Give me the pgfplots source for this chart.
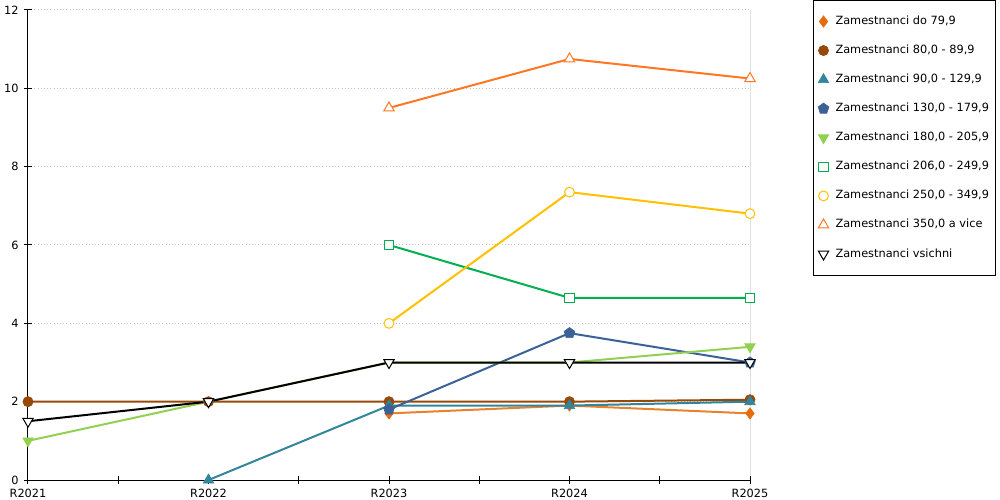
\documentclass[border=0pt]{standalone}
\usepackage{pgfplots}
\pgfplotsset{compat=1.18}
\usepackage{fontspec}
\setmainfont{DejaVu Sans}
\definecolor{c1}{HTML}{E46C0A}
\definecolor{c2}{HTML}{984807}
\definecolor{c3}{HTML}{31859C}
\definecolor{c4}{HTML}{3A6296}
\definecolor{c5}{HTML}{92D050}
\definecolor{c6}{HTML}{00B050}
\definecolor{c7}{HTML}{FFC000}
\definecolor{c8}{HTML}{FF7722}
\begin{document}
\begin{tikzpicture}
\begin{axis}[
  at={(0,0)}, anchor=south west,
  scale only axis,
  width=541.5pt, height=352.5pt,
  xmin=0, xmax=4, ymin=0, ymax=12,
  xtick={0,1,2,3,4},
  xticklabels={R2021,R2022,R2023,R2024,R2025},
  minor xtick={0.5,1.5,2.5,3.5},
  ytick={0,2,4,6,8,10,12},
  axis x line*=bottom, axis y line*=left,
  axis line style={-, black, line width=0.75pt},
  tick style={black, line width=0.75pt},
  tick align=center,
  major tick length=6pt, minor tick length=6pt,
  ymajorgrids,
  grid style={gray!50, dotted, line width=0.75pt},
  tick label style={font=\fontsize{8.5}{10}\selectfont},
  /pgf/number format/assume math mode=true,
  line width=1.5pt,
  legend style={at={(1.0873,1.0213)}, anchor=north west, draw=black, line width=0.75pt,
    font=\fontsize{8.5}{10}\selectfont, inner xsep=3.5pt, inner ysep=11pt,
    row sep=12.3pt,
    /tikz/every odd column/.append style={column sep=4pt},
    nodes={inner sep=1pt, text height=6pt, text depth=1.5pt}},
  legend cell align=left,
  legend image code/.code={\draw[#1] plot coordinates {(0.1cm,0cm)};},
]
\addplot[c1!85, mark=diamond*, mark size=4.2pt, mark options={c1, fill=c1, line width=0.5pt}] coordinates {(2,1.7)(3,1.9)(4,1.7)};
\addlegendentry{Zamestnanci do 79,9}
\addplot[c2, mark=*, mark size=3.8pt, mark options={c2, fill=c2, line width=0.5pt}] coordinates {(0,2)(1,2)(2,2)(3,2)(4,2.05)};
\addlegendentry{Zamestnanci 80,0 - 89,9}
\addplot[c3, mark=triangle*, mark size=4.5pt, mark options={c3, fill=c3, line width=0.5pt}] coordinates {(1,0)(2,1.9)(3,1.9)(4,2.0)};
\addlegendentry{Zamestnanci 90,0 - 129,9}
\addplot[c4, mark=pentagon*, mark size=4.2pt, mark options={c4, fill=c4, line width=0.5pt}] coordinates {(2,1.8)(3,3.75)(4,3.0)};
\addlegendentry{Zamestnanci 130,0 - 179,9}
\addplot[c5, mark=triangle*, mark size=4.5pt, mark options={c5, fill=c5, rotate=180, line width=0.5pt}] coordinates {(0,1.0)(1,2.0)(2,3.0)(3,3.0)(4,3.4)};
\addlegendentry{Zamestnanci 180,0 - 205,9}
\addplot[c6, mark=square*, mark size=3.6pt, mark options={c6, fill=white, line width=0.75pt}] coordinates {(2,6.0)(3,4.65)(4,4.65)};
\addlegendentry{Zamestnanci 206,0 - 249,9}
\addplot[c7, mark=*, mark size=3.7pt, mark options={c7, fill=white, line width=0.75pt}] coordinates {(2,4.0)(3,7.35)(4,6.8)};
\addlegendentry{Zamestnanci 250,0 - 349,9}
\addplot[c8, mark=triangle*, mark size=4.5pt, mark options={c8, fill=white, line width=0.75pt}] coordinates {(2,9.5)(3,10.75)(4,10.25)};
\addlegendentry{Zamestnanci 350,0 a vice}
\addplot[black, mark=triangle*, mark size=4.5pt, mark options={black, fill=white, rotate=180, line width=0.75pt}] coordinates {(0,1.5)(1,2.0)(2,3.0)(3,3.0)(4,3.0)};
\addlegendentry{Zamestnanci vsichni}
\draw[black, line width=0.75pt] (rel axis cs:1,0) -- (rel axis cs:1,1);
\end{axis}
\pgfresetboundingbox
\path[use as bounding box] (-21pt,-15pt) rectangle (729pt,360pt);
\end{tikzpicture}
\end{document}
